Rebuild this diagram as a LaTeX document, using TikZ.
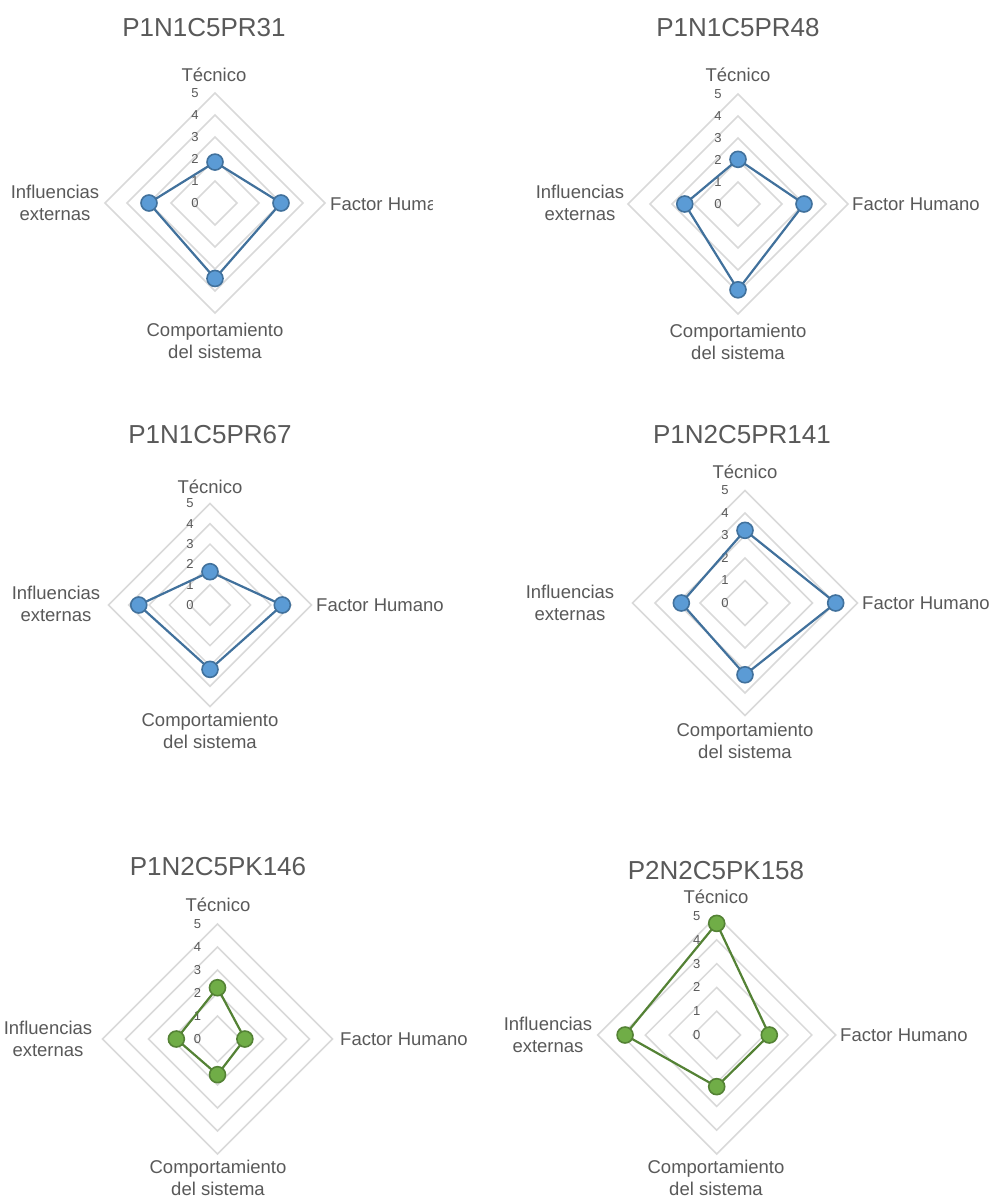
\documentclass[tikz,border=0pt]{standalone}
\usepackage{fontspec}
\setmainfont{Liberation Sans}
\definecolor{txt}{HTML}{595959}
\definecolor{gridc}{HTML}{D9D9D9}
\definecolor{blueline}{HTML}{41719C}
\definecolor{bluefill}{HTML}{5B9BD5}
\definecolor{greenline}{HTML}{548235}
\definecolor{greenfill}{HTML}{70AD47}
\tikzset{
  gridline/.style={draw=gridc, line width=1.5pt},
  ticklbl/.style={text=txt, font=\fontsize{13}{15}\selectfont, inner sep=0pt},
  charttitle/.style={text=txt, font=\fontsize{26}{30}\selectfont, inner sep=0pt},
  axislbl/.style={text=txt, font=\fontsize{18.5}{21.5}\selectfont, inner sep=0pt, align=center},
  blueseries/.style={draw=blueline, line width=2.2pt, line join=round},
  bluemark/.style={circle, fill=bluefill, draw=blueline, line width=1.6pt, minimum size=16pt, inner sep=0pt},
  greenseries/.style={draw=greenline, line width=2.2pt, line join=round},
  greenmark/.style={circle, fill=greenfill, draw=greenline, line width=1.6pt, minimum size=16pt, inner sep=0pt},
}
% #1 prefix, #2 cx, #3 cy, #4 unit, #5-#8 values (T,F,C,I), #9 series kind (blue/green)
\newcommand\radarplot[9]{%
  \begin{scope}[shift={(#2,#3)}]
    \foreach \k in {1,...,5}
      \draw[gridline] (0,-\k*#4) -- (\k*#4,0) -- (0,\k*#4) -- (-\k*#4,0) -- cycle;
    \foreach \k in {0,...,5}
      \node[ticklbl] (#1-tick\k) at (-20,-\k*#4) {\k};
    \coordinate (#1-t) at (0,-#5*#4);
    \coordinate (#1-f) at (#6*#4,0);
    \coordinate (#1-c) at (0,#7*#4);
    \coordinate (#1-i) at (-#8*#4,0);
    \draw[#9series] (#1-t) -- (#1-f) -- (#1-c) -- (#1-i) -- cycle;
    \node[#9mark] (#1-mt) at (#1-t) {};
    \node[#9mark] (#1-mf) at (#1-f) {};
    \node[#9mark] (#1-mc) at (#1-c) {};
    \node[#9mark] (#1-mi) at (#1-i) {};
  \end{scope}}
\begin{document}
\begin{tikzpicture}[x=1pt,y=-1pt]
\useasboundingbox[fill=white] (0,0) rectangle (993,1198);

% Chart 1
\radarplot{a}{215}{203}{22}{1.86}{3}{3.43}{3}{blue}
\node[charttitle] (a-title) at (204,27.5) {P1N1C5PR31};
\node[axislbl] (a-tec) at (214,75) {Técnico};
\begin{scope}
  \clip (300,180) rectangle (432,230);
  \node[axislbl, anchor=west] (a-fh) at (330,204) {Factor Humano};
\end{scope}
\node[axislbl] (a-inf) at (55,203) {Influencias\\externas};
\node[axislbl] (a-com) at (215,341) {Comportamiento\\del sistema};

% Chart 2
\radarplot{b}{738}{204}{22}{2.03}{3}{3.9}{2.42}{blue}
\node[charttitle] (b-title) at (738,28) {P1N1C5PR48};
\node[axislbl] (b-tec) at (738,75) {Técnico};
\node[axislbl, anchor=west] (b-fh) at (852,204) {Factor Humano};
\node[axislbl] (b-inf) at (580,203) {Influencias\\externas};
\node[axislbl] (b-com) at (738,342) {Comportamiento\\del sistema};

% Chart 3
\radarplot{c}{210}{605}{20.3}{1.64}{3.56}{3.17}{3.51}{blue}
\node[charttitle] (c-title) at (210,435) {P1N1C5PR67};
\node[axislbl] (c-tec) at (210,487) {Técnico};
\node[axislbl, anchor=west] (c-fh) at (316,605) {Factor Humano};
\node[axislbl] (c-inf) at (56,604) {Influencias\\externas};
\node[axislbl] (c-com) at (210,731) {Comportamiento\\del sistema};

% Chart 4
\radarplot{d}{745}{603}{22.5}{3.23}{4.03}{3.19}{2.83}{blue}
\node[charttitle] (d-title) at (742,435) {P1N2C5PR141};
\node[axislbl] (d-tec) at (745,472) {Técnico};
\node[axislbl, anchor=west] (d-fh) at (862,603) {Factor Humano};
\node[axislbl] (d-inf) at (570,603) {Influencias\\externas};
\node[axislbl] (d-com) at (745,741) {Comportamiento\\del sistema};

% Chart 5
\radarplot{e}{217.5}{1039}{23}{2.23}{1.19}{1.55}{1.79}{green}
\node[charttitle] (e-title) at (218,867) {P1N2C5PK146};
\node[axislbl] (e-tec) at (218,905) {Técnico};
\node[axislbl, anchor=west] (e-fh) at (340,1039) {Factor Humano};
\node[axislbl] (e-inf) at (48,1039) {Influencias\\externas};
\node[axislbl] (e-com) at (218,1178) {Comportamiento\\del sistema};

% Chart 6
\radarplot{f}{716.7}{1035}{23.8}{4.69}{2.21}{2.17}{3.85}{green}
\node[charttitle] (f-title) at (716,871) {P2N2C5PK158};
\node[axislbl] (f-tec) at (716,897) {Técnico};
\node[axislbl, anchor=west] (f-fh) at (840,1035) {Factor Humano};
\node[axislbl] (f-inf) at (548,1035) {Influencias\\externas};
\node[axislbl] (f-com) at (716,1178) {Comportamiento\\del sistema};
\end{tikzpicture}
\end{document}
